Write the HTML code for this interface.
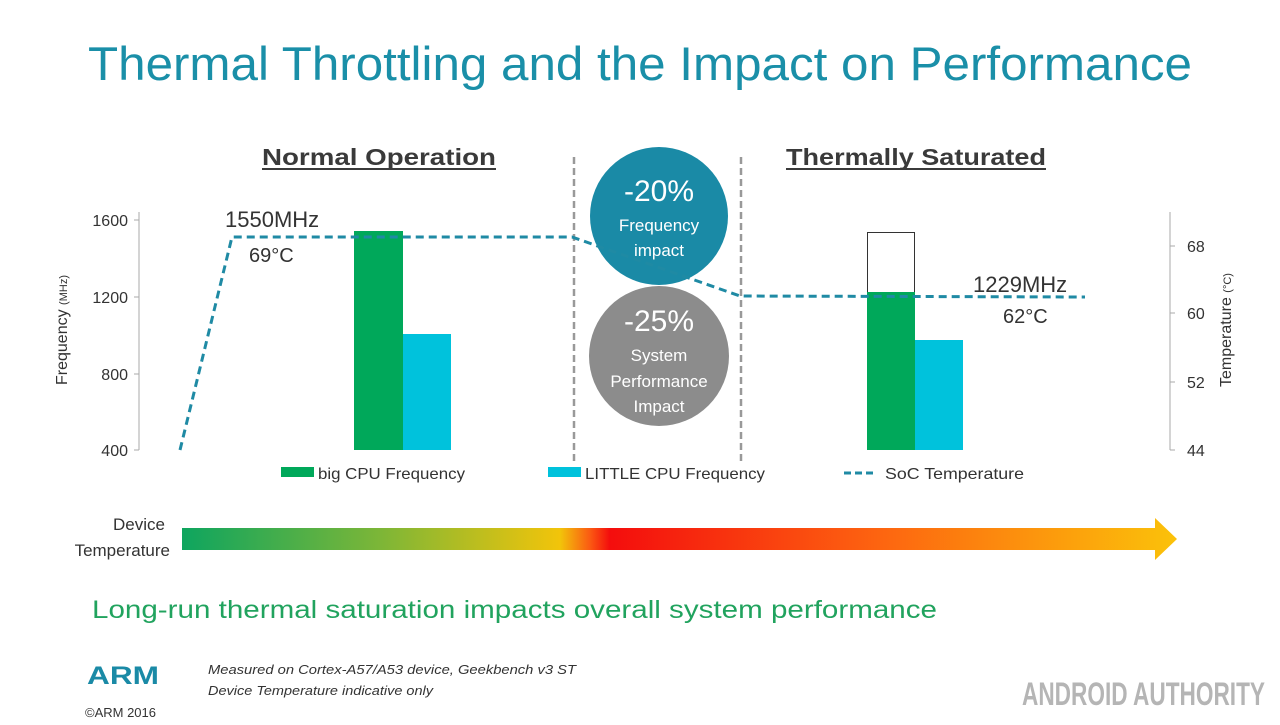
<!DOCTYPE html>
<html><head><meta charset="utf-8"><style>
body{margin:0;width:1280px;height:720px;background:#fff;overflow:hidden;font-family:"Liberation Sans",sans-serif;}
</style></head><body>
<svg width="1280" height="720" xmlns="http://www.w3.org/2000/svg" font-family="Liberation Sans, sans-serif">
<defs>
<linearGradient id="g" x1="182" x2="1177" y1="0" y2="0" gradientUnits="userSpaceOnUse">
<stop offset="0" stop-color="#0ea55f"/>
<stop offset="0.2" stop-color="#7db637"/>
<stop offset="0.38" stop-color="#f2c40a"/>
<stop offset="0.41" stop-color="#fb5a12"/>
<stop offset="0.43" stop-color="#f40d0d"/>
<stop offset="0.7" stop-color="#fd6410"/>
<stop offset="1" stop-color="#fbc20a"/>
</linearGradient>
</defs>
<text x="88" y="80" font-size="47" fill="#1a8fa8" textLength="1104" lengthAdjust="spacingAndGlyphs">Thermal Throttling and the Impact on Performance</text>
<text x="262" y="165" font-size="23" font-weight="bold" fill="#3a3a3a" textLength="234" lengthAdjust="spacingAndGlyphs">Normal Operation</text>
<line x1="262" y1="169" x2="496" y2="169" stroke="#3a3a3a" stroke-width="2"/>
<text x="786" y="165" font-size="23" font-weight="bold" fill="#3a3a3a" textLength="260" lengthAdjust="spacingAndGlyphs">Thermally Saturated</text>
<line x1="786" y1="169" x2="1046" y2="169" stroke="#3a3a3a" stroke-width="2"/>
<line x1="139" y1="212" x2="139" y2="450" stroke="#aaa"/>
<g stroke="#aaa"><line x1="134" y1="220" x2="139" y2="220"/><line x1="134" y1="297" x2="139" y2="297"/><line x1="134" y1="374" x2="139" y2="374"/><line x1="134" y1="450" x2="139" y2="450"/></g>
<g font-size="16" fill="#333" text-anchor="end"><text x="128" y="226">1600</text><text x="128" y="303">1200</text><text x="128" y="380">800</text><text x="128" y="456">400</text></g>
<text transform="translate(67,330) rotate(-90)" text-anchor="middle" font-size="16" fill="#333">Frequency <tspan font-size="11">(MHz)</tspan></text>
<line x1="1170" y1="212" x2="1170" y2="450" stroke="#aaa"/>
<g stroke="#aaa"><line x1="1170" y1="246" x2="1175" y2="246"/><line x1="1170" y1="313" x2="1175" y2="313"/><line x1="1170" y1="382" x2="1175" y2="382"/><line x1="1170" y1="450" x2="1175" y2="450"/></g>
<g font-size="16" fill="#333"><text x="1187" y="252">68</text><text x="1187" y="319">60</text><text x="1187" y="388">52</text><text x="1187" y="456">44</text></g>
<text transform="translate(1231,330) rotate(-90)" text-anchor="middle" font-size="16" fill="#333">Temperature <tspan font-size="11">(°C)</tspan></text>
<rect x="354" y="231" width="49" height="219" fill="#00a85a"/>
<rect x="403" y="334" width="48" height="116" fill="#00c2dc"/>
<rect x="867.5" y="232.5" width="47" height="60" fill="#fff" stroke="#333"/>
<rect x="867" y="292" width="48" height="158" fill="#00a85a"/>
<rect x="915" y="340" width="48" height="110" fill="#00c2dc"/>
<line x1="574" y1="157" x2="574" y2="462" stroke="#999" stroke-width="2.5" stroke-dasharray="7,4"/>
<line x1="741" y1="157" x2="741" y2="462" stroke="#999" stroke-width="2.5" stroke-dasharray="7,4"/>
<circle cx="659" cy="216" r="69" fill="#1a8aa6"/>
<circle cx="659" cy="356" r="70" fill="#8c8c8c"/>
<polyline points="180,450 232,237 572,237 740,296 1085,297" fill="none" stroke="#1f8aa4" stroke-width="3" stroke-dasharray="8,5"/>
<g fill="#fff" text-anchor="middle">
<text x="659" y="201" font-size="30">-20%</text>
<text x="659" y="231" font-size="17">Frequency</text>
<text x="659" y="256" font-size="17">impact</text>
<text x="659" y="331" font-size="30">-25%</text>
<text x="659" y="361" font-size="17">System</text>
<text x="659" y="387" font-size="17">Performance</text>
<text x="659" y="412" font-size="17">Impact</text>
</g>
<text x="225" y="227" font-size="22" fill="#333">1550MHz</text>
<text x="249" y="262" font-size="20" fill="#333">69°C</text>
<text x="973" y="292" font-size="22" fill="#333">1229MHz</text>
<text x="1003" y="323" font-size="20" fill="#333">62°C</text>
<rect x="281" y="467" width="33" height="10" fill="#00a85a"/>
<text x="318" y="479" font-size="16" fill="#333" textLength="147" lengthAdjust="spacingAndGlyphs">big CPU Frequency</text>
<rect x="548" y="467" width="33" height="10" fill="#00c2dc"/>
<text x="585" y="479" font-size="16" fill="#333" textLength="180" lengthAdjust="spacingAndGlyphs">LITTLE CPU Frequency</text>
<line x1="844" y1="473" x2="877" y2="473" stroke="#1f8aa4" stroke-width="3" stroke-dasharray="7,4"/>
<text x="885" y="479" font-size="16" fill="#333" textLength="139" lengthAdjust="spacingAndGlyphs">SoC Temperature</text>
<path d="M182,528 H1155 V518 L1177,539 L1155,560 V550 H182 Z" fill="url(#g)"/>
<text x="165" y="530" text-anchor="end" font-size="17" fill="#333">Device</text>
<text x="170" y="556" text-anchor="end" font-size="17" fill="#333">Temperature</text>
<text x="92" y="618" font-size="25" fill="#21a35e" textLength="845" lengthAdjust="spacingAndGlyphs">Long-run thermal saturation impacts overall system performance</text>
<text x="87" y="684" font-size="25" font-weight="bold" fill="#1a8aa6" textLength="72" lengthAdjust="spacingAndGlyphs">ARM</text>
<text x="85" y="717" font-size="13" fill="#333">©ARM 2016</text>
<text x="208" y="674" font-size="13" font-style="italic" fill="#333" textLength="368" lengthAdjust="spacingAndGlyphs">Measured on Cortex-A57/A53 device, Geekbench v3 ST</text>
<text x="208" y="695" font-size="13" font-style="italic" fill="#333" textLength="225" lengthAdjust="spacingAndGlyphs">Device Temperature indicative only</text>
<text x="1022" y="705" font-size="32" font-weight="bold" fill="#b5b5b5" textLength="243" lengthAdjust="spacingAndGlyphs">ANDROID AUTHORITY</text>
</svg>
</body></html>
